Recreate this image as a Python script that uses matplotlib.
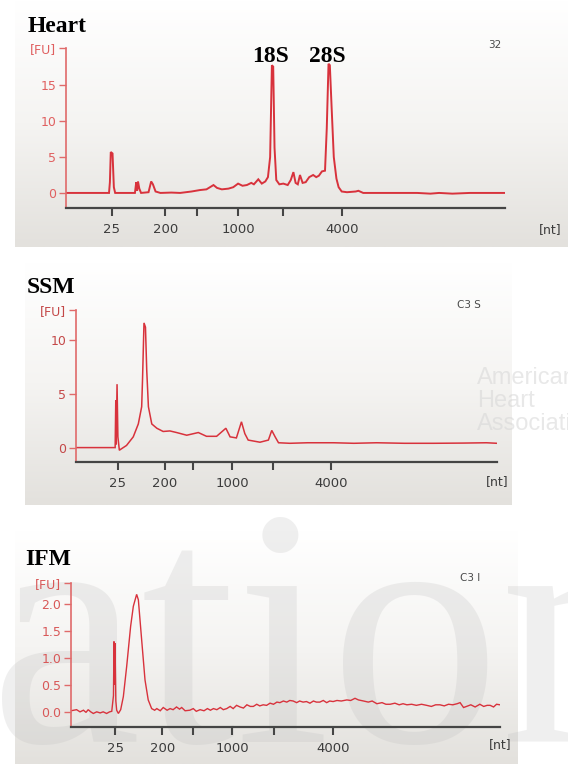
import matplotlib.pyplot as plt
import numpy as np
from matplotlib.colors import LinearSegmentedColormap

# electropherogram traces, x = relative migration position (0-100 along the axis)
heart_pos = [
    0.0, 9.8, 10.0, 10.2, 10.6, 10.9, 11.2, 15.7, 16.0, 16.2,
    16.4, 16.7, 17.1, 18.8, 19.4, 19.8, 20.4, 21.5, 24.0, 26.0,
    28.6, 30.5, 32.0, 33.6, 34.4, 35.5, 37.0, 38.1, 39.2, 40.2,
    41.2, 42.2, 42.8, 43.8, 44.6, 45.4, 46.0, 46.5, 46.9, 47.2,
    47.5, 47.9, 48.6, 49.5, 50.5, 51.2, 51.8, 52.3, 52.8, 53.3,
    53.9, 54.6, 55.4, 56.3, 57.0, 57.6, 58.3, 59.0, 59.4, 59.8,
    60.1, 60.5, 61.0, 61.6, 62.1, 62.8, 64.0, 66.0, 66.6, 67.7,
    75.0, 80.0, 83.0, 85.0, 88.0, 92.0, 100.0]
heart_fu = [
    0.0, 0.0, 1.5, 5.7, 5.5, 0.8, 0.0, 0.0, 1.5, 0.3,
    1.6, 0.6, 0.0, 0.1, 1.6, 1.2, 0.2, 0.0, 0.05, 0.0,
    0.2, 0.4, 0.5, 1.1, 0.7, 0.5, 0.6, 0.8, 1.3, 1.0,
    1.1, 1.4, 1.2, 1.9, 1.3, 1.6, 2.2, 5.0, 17.8, 17.6,
    6.3, 1.8, 1.2, 1.3, 1.1, 1.8, 2.9, 1.4, 1.2, 2.5,
    1.4, 1.5, 2.2, 2.5, 2.2, 2.4, 3.0, 3.1, 9.0, 18.0,
    17.8, 12.0, 5.0, 2.0, 0.8, 0.2, 0.1, 0.2, 0.3, 0.0,
    0.0, 0.0, -0.1, 0.0, -0.1, 0.0, 0.0]

ssm_pos = [
    0.0, 9.3, 9.45, 9.55, 9.75, 9.95, 10.3, 10.45, 12.0, 13.6,
    14.8, 15.6, 15.8, 16.15, 16.5, 16.8, 17.2, 18.0, 19.2, 20.7,
    22.3, 23.9, 26.3, 29.05, 31.0, 33.4, 35.6, 36.6, 38.1, 39.3,
    40.1, 40.9, 43.7, 45.7, 46.5, 47.3, 48.1, 50.8, 55.0, 61.2,
    66.0, 71.4, 78.0, 84.9, 92.0, 97.5, 100.0]
ssm_fu = [
    0.0, 0.0, 4.4, 0.3, 5.9, 1.0, -0.25, -0.2, 0.2, 1.0,
    2.2, 3.8, 6.3, 11.6, 11.2, 7.2, 3.8, 2.2, 1.8, 1.5,
    1.55, 1.4, 1.15, 1.4, 1.05, 1.05, 1.8, 1.0, 0.9, 2.4,
    1.3, 0.7, 0.5, 0.7, 1.6, 1.0, 0.45, 0.4, 0.45, 0.45,
    0.4, 0.45, 0.4, 0.4, 0.42, 0.45, 0.4]

ifm_pos = [
    0.0, 1.3, 2.1, 2.9, 3.5, 4.0, 4.6, 5.2, 6.0, 6.8,
    7.5, 8.3, 9.0, 9.5, 9.9, 10.02, 10.15, 10.26, 10.45, 10.65,
    11.04, 11.58, 12.2, 12.98, 13.9, 14.53, 15.3, 15.7, 16.47, 17.25,
    18.0, 18.8, 19.5, 20.0, 20.8, 21.5, 22.4, 23.1, 23.8, 24.6,
    25.3, 25.8, 26.6, 27.7, 28.5, 29.2, 30.1, 31.0, 31.8, 32.5,
    33.2, 34.0, 34.8, 35.5, 36.3, 37.1, 37.8, 38.6, 39.4, 40.2,
    41.0, 41.8, 42.5, 43.3, 44.0, 44.8, 45.6, 46.4, 47.2, 48.0,
    48.7, 49.5, 50.3, 51.0, 51.8, 52.6, 53.3, 54.1, 54.9, 55.7,
    56.5, 57.2, 58.0, 58.8, 59.6, 60.3, 61.1, 62.0, 63.0, 64.3,
    65.2, 66.2, 67.0, 68.2, 69.3, 70.2, 71.3, 72.5, 73.4, 74.4,
    75.5, 76.5, 77.4, 78.3, 79.4, 80.5, 81.7, 82.9, 84.0, 85.0,
    86.0, 87.0, 88.0, 89.0, 90.0, 90.7, 91.5, 92.2, 93.2, 94.2,
    95.3, 96.2, 97.0, 97.7, 98.5, 99.2, 100.0]
ifm_fu = [
    0.02, 0.04, 0.0, 0.03, -0.01, 0.04, 0.0, -0.03, 0.0, -0.02,
    0.0, -0.03, 0.0, 0.01, 0.3, 1.30, 0.5, 1.27, 0.2, 0.03,
    -0.03, 0.04, 0.28, 0.84, 1.58, 1.95, 2.17, 2.07, 1.33, 0.59,
    0.22, 0.06, 0.03, 0.06, 0.02, 0.08, 0.03, 0.06, 0.04, 0.09,
    0.05, 0.08, 0.02, 0.03, 0.06, 0.01, 0.04, 0.02, 0.06, 0.03,
    0.06, 0.04, 0.08, 0.04, 0.06, 0.1, 0.06, 0.12, 0.09, 0.07,
    0.13, 0.1, 0.1, 0.14, 0.11, 0.13, 0.12, 0.16, 0.14, 0.18,
    0.17, 0.2, 0.18, 0.21, 0.2, 0.17, 0.2, 0.18, 0.19, 0.16,
    0.2, 0.18, 0.18, 0.21, 0.17, 0.2, 0.19, 0.21, 0.2, 0.22,
    0.21, 0.25, 0.22, 0.2, 0.18, 0.2, 0.15, 0.17, 0.14, 0.14,
    0.16, 0.13, 0.15, 0.13, 0.14, 0.12, 0.14, 0.12, 0.1, 0.13,
    0.13, 0.11, 0.14, 0.13, 0.15, 0.17, 0.08, 0.1, 0.13, 0.09,
    0.14, 0.1, 0.12, 0.12, 0.09, 0.14, 0.13]

# ladder tick positions (nt) per run
nt_labels = ["25", "200", "", "1000", "", "4000"]
heart_nt_pos = [10.4, 22.6, 29.8, 39.2, 49.4, 62.9]
ssm_nt_pos = [9.9, 21.1, 27.7, 37.1, 46.7, 60.6]
ifm_nt_pos = [10.3, 21.3, 28.4, 37.6, 47.3, 61.1]

heart_yticks = [0, 5, 10, 15]
ssm_yticks = [0, 5, 10]
ifm_yticks = [0.0, 0.5, 1.0, 1.5, 2.0]
ifm_ylabels = ["0.0", "0.5", "1.0", "1.5", "2.0"]

W, H = 568, 764
fig = plt.figure(figsize=(W / 100, H / 100), dpi=100)
fig.patch.set_facecolor("white")


def box(l, t, r, b):
    return [l / W, 1 - b / H, (r - l) / W, (b - t) / H]


# light grey screenshot backgrounds
bg_cmap = LinearSegmentedColormap.from_list("bg", ["#ffffff", "#f5f4f2", "#e3e1dd"])
for rect in [(15, 0, 568, 247), (25, 262, 512, 505), (15, 530, 518, 764)]:
    bg = fig.add_axes(box(*rect), zorder=0)
    bg.imshow(np.linspace(0, 1, 200).reshape(-1, 1), aspect="auto", cmap=bg_cmap,
              extent=[0, 1, 0, 1])
    bg.axis("off")

# faint watermarks
fig.text(-10 / W, 1 - 742 / H, "ation", fontsize=245, family="Liberation Serif",
         color="#bdbdbd", alpha=0.24, zorder=0.5)
fig.text(477 / W, 1 - 367 / H, "American\nHeart\nAssociation", fontsize=17,
         family="Liberation Sans", color="#d6d6d6", alpha=0.55, va="top",
         linespacing=1.05, zorder=0.5)

RED = "#d8323c"


def panel(rect, pos, fu, ylim, yticks, ylabels, nt_pos, lw, ylab_color):
    ax = fig.add_axes(box(*rect), zorder=1)
    ax.patch.set_alpha(0)
    ax.plot(pos, fu, color=RED, lw=lw, solid_joinstyle="miter")
    ax.set_xlim(0, 100)
    ax.set_ylim(*ylim)
    ax.set_yticks(list(yticks) + [ylim[1]])
    ax.set_yticklabels(list(ylabels) + ["[FU]"])
    ax.set_xticks(nt_pos)
    ax.set_xticklabels(nt_labels)
    for s in ["top", "right"]:
        ax.spines[s].set_visible(False)
    ax.spines["left"].set_color("#e06a6a")
    ax.spines["left"].set_linewidth(1.2)
    ax.spines["bottom"].set_color("#454545")
    ax.spines["bottom"].set_linewidth(1.6)
    ax.tick_params(axis="y", colors="#e06a6a", labelcolor=ylab_color, length=5,
                   width=1, pad=2, labelsize=9)
    ax.tick_params(axis="x", colors="#454545", labelcolor="#3c3c3c", length=6,
                   width=1.5, pad=5, labelsize=9.5)
    return ax


ax1 = panel((66, 48, 505, 208), heart_pos, heart_fu, (-2.1, 20.2), heart_yticks,
            [str(v) for v in heart_yticks], heart_nt_pos, 1.4, "#e06060")
ax2 = panel((76, 310, 497, 462), ssm_pos, ssm_fu, (-1.34, 12.8), ssm_yticks,
            [str(v) for v in ssm_yticks], ssm_nt_pos, 1.1, "#c44848")
ax3 = panel((71, 583, 500, 727), ifm_pos, ifm_fu, (-0.28, 2.38), ifm_yticks,
            ifm_ylabels, ifm_nt_pos, 1.0, "#d85858")

serif = dict(family="Liberation Serif", fontweight="bold", fontsize=17, color="black")
fig.text(28 / W, 1 - 32 / H, "Heart", va="baseline", **serif)
fig.text(27 / W, 1 - 293 / H, "SSM", va="baseline", **serif)
fig.text(25 / W, 1 - 565 / H, "IFM", va="baseline", **serif)
ax1.text(46.6, 18.3, "18S", ha="center", va="baseline", clip_on=False, **serif)
ax1.text(59.5, 18.3, "28S", ha="center", va="baseline", clip_on=False, **serif)

small = dict(fontsize=7.5, color="#4a4a4a", va="center")
fig.text(488 / W, 1 - 45 / H, "32", **small)
fig.text(457 / W, 1 - 305 / H, "C3 S", **small)
fig.text(460 / W, 1 - 578 / H, "C3 I", **small)

for x, y in [(550, 230), (497, 482), (500, 745)]:
    fig.text(x / W, 1 - y / H, "[nt]", ha="center", va="center", fontsize=9,
             color="#3c3c3c")

plt.savefig("out.png", dpi=100)
